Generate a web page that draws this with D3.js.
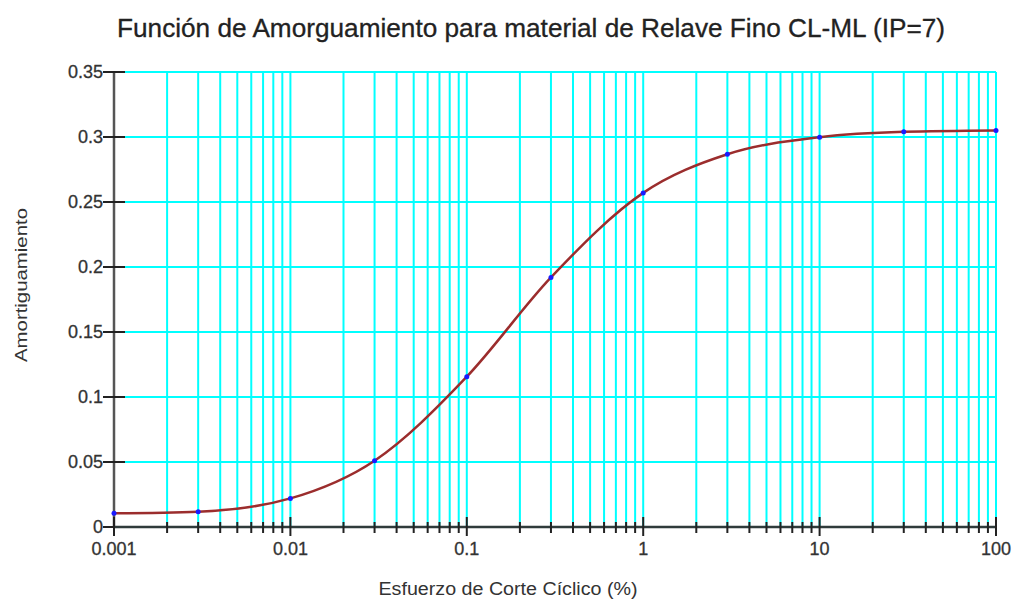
<!DOCTYPE html>
<html>
<head>
<meta charset="utf-8">
<script src="https://cdn.jsdelivr.net/npm/d3@7"></script>
<style>
  html, body { margin: 0; padding: 0; background: #fff; }
  svg { display: block; font-family: "Liberation Sans", Arial, sans-serif; }
</style>
</head>
<body>
<svg id="chart" width="1014" height="601"></svg>
<script>
// Cyclic shear strain (%) and measured damping ratio
const strain = [0.001, 0.003, 0.01, 0.03, 0.1, 0.3, 1, 3, 10, 30, 100];
const damping = [0.0105, 0.0118, 0.022, 0.051, 0.1156, 0.192, 0.257, 0.2867, 0.2998, 0.304, 0.305];

const yTicks = [0, 0.05, 0.1, 0.15, 0.2, 0.25, 0.3, 0.35];
const xDecades = [0.001, 0.01, 0.1, 1, 10, 100];
const xDecadeLabels = ["0.001", "0.01", "0.1", "1", "10", "100"];

const chartTitle = "Función de Amorguamiento para material de Relave Fino CL-ML (IP=7)";
const xTitle = "Esfuerzo de Corte Cíclico (%)";
const yTitle = "Amortiguamiento";

const svg = d3.select("#chart");
const plotLeft = 114, plotRight = 996, plotTop = 72, plotBottom = 527;

const x = d3.scaleLog().domain([0.001, 100]).range([plotLeft, plotRight]);
const y = d3.scaleLinear().domain([0, 0.35]).range([plotBottom, plotTop]);

// minor log positions (2..9 within each decade)
const minor = [];
xDecades.slice(0, -1).forEach(d => { for (let k = 2; k <= 9; k++) minor.push(d * k); });

// grid
const grid = svg.append("g").attr("stroke", "#00ffff").attr("stroke-width", 2);
grid.selectAll("line.v").data(minor.concat(xDecades.slice(1))).join("line")
  .attr("class", "v")
  .attr("x1", d => x(d)).attr("x2", d => x(d))
  .attr("y1", plotTop).attr("y2", plotBottom);
grid.selectAll("line.h").data(yTicks.slice(1)).join("line")
  .attr("class", "h")
  .attr("x1", plotLeft).attr("x2", plotRight)
  .attr("y1", d => y(d)).attr("y2", d => y(d));

// y axis
const yAxis = svg.append("g");
yAxis.append("line").attr("x1", plotLeft).attr("x2", plotLeft).attr("y1", plotTop).attr("y2", plotBottom)
  .attr("stroke", "#555").attr("stroke-width", 2.5);
yAxis.selectAll("line.t").data(yTicks).join("line")
  .attr("class", "t")
  .attr("x1", plotLeft - 11).attr("x2", plotLeft + 11)
  .attr("y1", d => y(d)).attr("y2", d => y(d))
  .attr("stroke", "#222").attr("stroke-width", 2);
yAxis.selectAll("text").data(yTicks).join("text")
  .attr("x", plotLeft - 11).attr("y", d => y(d) + 6)
  .attr("text-anchor", "end").attr("font-size", 18).attr("fill", "#333")
  .attr("stroke", "#333").attr("stroke-width", 0.3)
  .text(d => d3.format("")(d));

// x axis
const xAxis = svg.append("g");
xAxis.append("line").attr("x1", plotLeft).attr("x2", plotRight).attr("y1", plotBottom).attr("y2", plotBottom)
  .attr("stroke", "#2f3b3b").attr("stroke-width", 2.5);
xAxis.selectAll("line.m").data(minor).join("line")
  .attr("class", "m")
  .attr("x1", d => x(d)).attr("x2", d => x(d))
  .attr("y1", plotBottom - 5).attr("y2", plotBottom + 6)
  .attr("stroke", "#222").attr("stroke-width", 2);
xAxis.selectAll("line.M").data(xDecades).join("line")
  .attr("class", "M")
  .attr("x1", d => x(d)).attr("x2", d => x(d))
  .attr("y1", plotBottom - 10).attr("y2", plotBottom + 9)
  .attr("stroke", "#222").attr("stroke-width", 2);
xAxis.selectAll("text").data(xDecades).join("text")
  .attr("x", d => x(d)).attr("y", plotBottom + 28)
  .attr("text-anchor", "middle").attr("font-size", 18).attr("fill", "#333")
  .attr("stroke", "#333").attr("stroke-width", 0.3)
  .text((d, i) => xDecadeLabels[i]);

// fitted curve
const line = d3.line()
  .x((d, i) => x(strain[i]))
  .y(d => y(d))
  .curve(d3.curveMonotoneX);
svg.append("path").datum(damping)
  .attr("d", line).attr("fill", "none")
  .attr("stroke", "#9b2d2d").attr("stroke-width", 2.5);

// data points
svg.selectAll("circle").data(damping).join("circle")
  .attr("cx", (d, i) => x(strain[i])).attr("cy", d => y(d))
  .attr("r", 2.5).attr("fill", "#1a1aff");

// titles
svg.append("text").attr("x", 531).attr("y", 37)
  .attr("text-anchor", "middle").attr("font-size", 26).attr("fill", "#222")
  .attr("stroke", "#222").attr("stroke-width", 0.3)
  .attr("textLength", 828).attr("lengthAdjust", "spacingAndGlyphs")
  .text(chartTitle);
svg.append("text").attr("x", 508).attr("y", 595)
  .attr("text-anchor", "middle").attr("font-size", 18).attr("fill", "#333")
  .attr("textLength", 259).attr("lengthAdjust", "spacingAndGlyphs")
  .text(xTitle);
svg.append("text")
  .attr("transform", "translate(27,285) rotate(-90)")
  .attr("text-anchor", "middle").attr("font-size", 17).attr("fill", "#333")
  .attr("textLength", 154).attr("lengthAdjust", "spacingAndGlyphs")
  .text(yTitle);
</script>
</body>
</html>
